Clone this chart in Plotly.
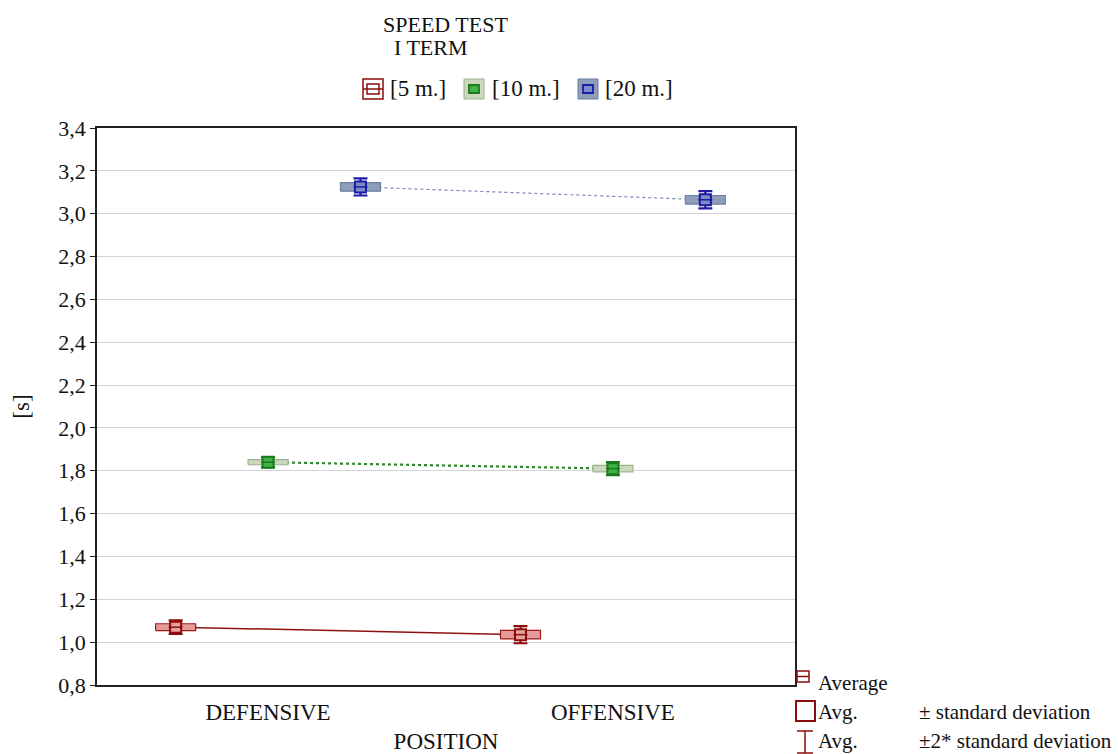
import plotly.graph_objects as go

# ---------------- data ----------------
categories = ["DEFENSIVE", "OFFENSIVE"]
series_names = ["[5 m.]", "[10 m.]", "[20 m.]"]
mean_5m = [1.07, 1.035]
sd_5m = [0.016, 0.02]
mean_10m = [1.84, 1.81]
sd_10m = [0.012, 0.015]
mean_20m = [3.125, 3.065]
sd_20m = [0.02, 0.02]
y_ticks = [0.8, 1.0, 1.2, 1.4, 1.6, 1.8, 2.0, 2.2, 2.4, 2.6, 2.8, 3.0, 3.2, 3.4]

# ---------------- styling ----------------
FONT = "Liberation Serif"
W, H = 1118, 754
L, R, T, B = 97, 795, 128, 685  # plot area in pixels

styles = [
    dict(offset=-0.268, dark="#8c0c0c", mfill="#e7a0a0", bfill="#e69a9a", bline="#a01818",
         lcolor="#8c1010", lwidth=1.5, dash="solid"),
    dict(offset=0.0, dark="#1c7a1c", mfill="#3fb348", bfill="#cbd8bb", bline="#9fb28e",
         lcolor="#2a8a2a", lwidth=2.2, dash="dot"),
    dict(offset=0.268, dark="#1c1ca6", mfill="#7d8cc4", bfill="#8e9db8", bline="#6c7ea2",
         lcolor="#7c88b8", lwidth=1.2, dash="dot"),
]
means = [mean_5m, mean_10m, mean_20m]
sds = [sd_5m, sd_10m, sd_20m]
BOX_HALF = 0.058

fig = go.Figure()

for name, m, s, st in zip(series_names, means, sds, styles):
    xs = [i + st["offset"] for i in range(len(categories))]
    # connecting line
    fig.add_trace(go.Scatter(x=xs, y=m, mode="lines", showlegend=False, hoverinfo="skip",
                             line=dict(color=st["lcolor"], width=st["lwidth"], dash=st["dash"])))
    # +/- SD boxes
    bx, by = [], []
    for x, mu, sd in zip(xs, m, s):
        bx += [x - BOX_HALF, x + BOX_HALF, x + BOX_HALF, x - BOX_HALF, x - BOX_HALF, None]
        by += [mu - sd, mu - sd, mu + sd, mu + sd, mu - sd, None]
    fig.add_trace(go.Scatter(x=bx, y=by, mode="lines", fill="toself", fillcolor=st["bfill"],
                             line=dict(color=st["bline"], width=1.2), showlegend=False,
                             hoverinfo="skip"))
    # mean with +/- 2 SD whiskers
    fig.add_trace(go.Scatter(
        x=xs, y=m, mode="markers", name=name, showlegend=False,
        marker=dict(symbol="square", size=11, color=st["mfill"],
                    line=dict(color=st["dark"], width=2)),
        error_y=dict(type="data", array=[2 * v for v in s], symmetric=True,
                     color=st["dark"], thickness=2.2, width=7)))
    fig.add_trace(go.Scatter(
        x=xs, y=m, mode="markers", showlegend=False, hoverinfo="skip",
        marker=dict(symbol="line-ew", size=10, line=dict(color=st["dark"], width=1.5))))


def px(x):
    return (x - L) / (R - L)


def py(y):
    return (B - y) / (B - T)


shapes = []
annotations = []

# title
annotations.append(dict(text="SPEED TEST", x=px(445), y=py(24), xref="paper", yref="paper",
                        showarrow=False, xanchor="center", yanchor="middle",
                        font=dict(family=FONT, size=22, color="#111")))
annotations.append(dict(text="I TERM", x=px(431), y=py(48), xref="paper", yref="paper",
                        showarrow=False, xanchor="center", yanchor="middle",
                        font=dict(family=FONT, size=22, color="#111")))

# top legend (series)
leg_icons = [373, 474, 588]
leg_text_x = [388, 490, 603]
for name, st, cx, tx in zip(series_names, styles, leg_icons, leg_text_x):
    cy = 89
    if st["dash"] == "solid":
        shapes.append(dict(type="rect", xref="paper", yref="paper",
                           x0=px(cx - 10), x1=px(cx + 10), y0=py(cy + 10), y1=py(cy - 10),
                           line=dict(color=st["dark"], width=1.5), fillcolor="white"))
        shapes.append(dict(type="rect", xref="paper", yref="paper",
                           x0=px(cx - 6), x1=px(cx + 6), y0=py(cy + 5), y1=py(cy - 5),
                           line=dict(color=st["dark"], width=1.5), fillcolor="white"))
        shapes.append(dict(type="line", xref="paper", yref="paper",
                           x0=px(cx - 10), x1=px(cx + 10), y0=py(cy), y1=py(cy),
                           line=dict(color=st["dark"], width=1.5)))
    else:
        shapes.append(dict(type="rect", xref="paper", yref="paper",
                           x0=px(cx - 10), x1=px(cx + 10), y0=py(cy + 10), y1=py(cy - 10),
                           line=dict(color=st["bline"], width=1), fillcolor=st["bfill"]))
        shapes.append(dict(type="rect", xref="paper", yref="paper",
                           x0=px(cx - 5), x1=px(cx + 5), y0=py(cy + 4), y1=py(cy - 4),
                           line=dict(color=st["dark"], width=1.8), fillcolor=st["mfill"]))
    annotations.append(dict(text=name, x=px(tx), y=py(cy), xref="paper", yref="paper",
                            showarrow=False, xanchor="left", yanchor="middle",
                            font=dict(family=FONT, size=23, color="#111")))

# bottom-right legend (statistics)
red = "#8c0c0c"
# Average icon
shapes.append(dict(type="rect", xref="paper", yref="paper",
                   x0=px(797), x1=px(809), y0=py(682), y1=py(671),
                   line=dict(color=red, width=1.5), fillcolor="white"))
shapes.append(dict(type="line", xref="paper", yref="paper",
                   x0=px(797), x1=px(809), y0=py(676.5), y1=py(676.5),
                   line=dict(color=red, width=1.5)))
# box icon
shapes.append(dict(type="rect", xref="paper", yref="paper",
                   x0=px(796), x1=px(815), y0=py(721), y1=py(701),
                   line=dict(color=red, width=2), fillcolor="white"))
# whisker icon
shapes.append(dict(type="line", xref="paper", yref="paper",
                   x0=px(805), x1=px(805), y0=py(731), y1=py(753),
                   line=dict(color=red, width=1.5)))
shapes.append(dict(type="line", xref="paper", yref="paper",
                   x0=px(797), x1=px(813), y0=py(731), y1=py(731),
                   line=dict(color=red, width=1.5)))
shapes.append(dict(type="line", xref="paper", yref="paper",
                   x0=px(797), x1=px(813), y0=py(753), y1=py(753),
                   line=dict(color=red, width=1.5)))

for text, x, y in [("Average", 816, 683), ("Avg.", 816, 712), ("± standard deviation", 917, 712),
                   ("Avg.", 816, 741), ("±2* standard deviation", 917, 741)]:
    annotations.append(dict(text=text, x=px(x), y=py(y), xref="paper", yref="paper",
                            showarrow=False, xanchor="left", yanchor="middle",
                            font=dict(family=FONT, size=21, color="#111")))

fig.update_layout(
    width=W, height=H,
    margin=dict(l=L, r=W - R, t=T, b=H - B, pad=0),
    paper_bgcolor="white", plot_bgcolor="white",
    font=dict(family=FONT, size=22, color="#111"),
    separators=",.",
    showlegend=False,
    shapes=shapes,
    annotations=annotations,
)
fig.update_xaxes(
    range=[-0.496, 1.528], tickvals=[0, 1], ticktext=categories, automargin=False,
    showgrid=False, zeroline=False, ticks="", ticklabelstandoff=6,
    showline=True, linecolor="#222", linewidth=1.5, mirror=True,
    tickfont=dict(family=FONT, size=23, color="#111"),
    title=dict(text="POSITION", standoff=14, font=dict(family=FONT, size=23, color="#111")),
)
fig.update_yaxes(
    range=[0.8, 3.4], tickvals=y_ticks, tickformat=".1f", automargin=False,
    showgrid=True, gridcolor="#d4d4d4", gridwidth=1, zeroline=False,
    ticks="outside", ticklen=5, tickcolor="#222",
    showline=True, linecolor="#222", linewidth=1.5, mirror=True,
    tickfont=dict(family=FONT, size=22, color="#111"),
    title=dict(text="[s]", standoff=22, font=dict(family=FONT, size=23, color="#111")),
)

fig.write_html("out.html")
